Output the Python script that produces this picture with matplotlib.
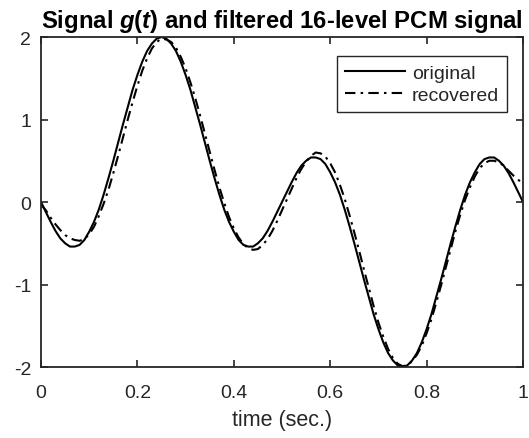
import matplotlib
matplotlib.use("Agg")
import matplotlib.pyplot as plt

# valores (paso de 0.01 s)
t = [i / 100 for i in range(101)]

original = [
    0.00, -0.12, -0.24, -0.35, -0.44, -0.50, -0.54, -0.54, -0.52, -0.46,
    -0.36, -0.24, -0.09, 0.09, 0.29, 0.50, 0.72, 0.94, 1.15, 1.36,
    1.54, 1.70, 1.83, 1.92, 1.98, 2.00, 1.98, 1.92, 1.83, 1.70,
    1.54, 1.36, 1.15, 0.94, 0.72, 0.50, 0.29, 0.09, -0.09, -0.24,
    -0.36, -0.46, -0.52, -0.54, -0.54, -0.50, -0.44, -0.35, -0.24, -0.12,
    0.00, 0.12, 0.24, 0.35, 0.44, 0.50, 0.54, 0.54, 0.52, 0.46,
    0.36, 0.24, 0.09, -0.09, -0.29, -0.50, -0.72, -0.94, -1.15, -1.36,
    -1.54, -1.70, -1.83, -1.92, -1.98, -2.00, -1.98, -1.92, -1.83, -1.70,
    -1.54, -1.36, -1.15, -0.94, -0.72, -0.50, -0.29, -0.09, 0.09, 0.24,
    0.36, 0.46, 0.52, 0.54, 0.54, 0.50, 0.44, 0.35, 0.24, 0.12,
    0.00,
]

recovered = [
    -0.03, -0.10, -0.19, -0.27, -0.34, -0.40, -0.44, -0.46, -0.47, -0.45,
    -0.39, -0.30, -0.17, -0.02, 0.15, 0.35, 0.56, 0.78, 1.00, 1.21,
    1.41, 1.59, 1.74, 1.86, 1.94, 1.98, 1.97, 1.94, 1.87, 1.76,
    1.62, 1.45, 1.26, 1.05, 0.83, 0.61, 0.39, 0.18, -0.01, -0.18,
    -0.32, -0.43, -0.51, -0.56, -0.58, -0.57, -0.52, -0.45, -0.35, -0.23,
    -0.10, 0.03, 0.16, 0.29, 0.40, 0.49, 0.56, 0.60, 0.59, 0.55,
    0.47, 0.36, 0.21, 0.04, -0.16, -0.37, -0.59, -0.82, -1.04, -1.26,
    -1.46, -1.63, -1.78, -1.89, -1.96, -1.99, -1.98, -1.93, -1.85, -1.74,
    -1.59, -1.42, -1.22, -1.01, -0.79, -0.57, -0.35, -0.15, 0.03, 0.18,
    0.31, 0.41, 0.47, 0.50, 0.50, 0.48, 0.44, 0.38, 0.32, 0.27,
    0.22,
]

xticks = [0, 0.2, 0.4, 0.6, 0.8, 1]
xtick_labels = ['0', '0.2', '0.4', '0.6', '0.8', '1']
yticks = [-2, -1, 0, 1, 2]
ytick_labels = ['-2', '-1', '0', '1', '2']

plt.rcParams['font.family'] = ['Liberation Sans', 'DejaVu Sans']
plt.rcParams['mathtext.fontset'] = 'custom'
plt.rcParams['mathtext.bfit'] = 'Liberation Sans:italic:bold'
plt.rcParams['mathtext.bf'] = 'Liberation Sans:bold'

fig = plt.figure(figsize=(5.29, 4.39), dpi=100)
ax = fig.add_axes([0.0775, 0.1617, 0.9112, 0.7517])

ax.plot(t, original, color='black', linewidth=1.5, label='original')
ax.plot(t, recovered, color='black', linewidth=1.5,
        linestyle=(0, (5, 2.5, 1.2, 2.5)), label='recovered')

ax.set_xlim(0, 1)
ax.set_ylim(-2, 2)
ax.set_xticks(xticks)
ax.set_xticklabels(xtick_labels)
ax.set_yticks(yticks)
ax.set_yticklabels(ytick_labels)

gris = '#262626'
ax.tick_params(direction='in', top=True, right=True, length=5, width=1.2,
               labelsize=14, labelcolor=gris, color=gris)
ax.tick_params(axis='x', pad=12)
ax.tick_params(axis='y', pad=7)
for s in ax.spines.values():
    s.set_linewidth(1.3)
    s.set_color(gris)

ax.set_xlabel('time (sec.)', fontsize=15.5, color=gris, labelpad=6)
ax.set_title(r'Signal $\mathbfit{g}$$\mathbf{(}$$\mathbfit{t}$$\mathbf{)}$ and filtered 16-level PCM signal',
             fontsize=17.2, fontweight='bold', pad=7)

leg = ax.legend(loc='upper right', bbox_to_anchor=(0.967, 0.942), borderaxespad=0,
                fontsize=14, fancybox=False, framealpha=1, handlelength=3.1,
                handletextpad=0.35, borderpad=0.4, labelspacing=0.25)
leg.get_frame().set_edgecolor(gris)
leg.get_frame().set_linewidth(1.0)
for txt in leg.get_texts():
    txt.set_color(gris)

fig.savefig('out.png', dpi=100)
